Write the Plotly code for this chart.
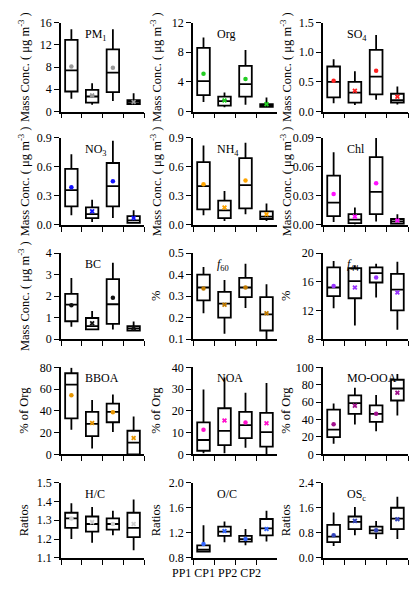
import plotly.graph_objects as go
from plotly.subplots import make_subplots

W, H = 409, 601
FONT = "Liberation Serif"

periods = ["PP1", "CP1", "PP2", "CP2"]
mean_symbols = ["circle", "x", "circle", "x"]

# Box statistics per variable: [low whisker, q1, median, q3, high whisker], mean
pm1_stats = [[2.3, 3.6, 7.4, 12.9, 14.8], [1.2, 1.6, 2.7, 3.9, 5.1], [1.9, 3.5, 7.0, 11.2, 14.8], [1.2, 1.35, 1.75, 2.05, 3.3]]
pm1_mean = [8.1, 2.9, 7.9, 1.7]
org_stats = [[1.3, 2.2, 4.1, 8.6, 10.0], [0.57, 0.8, 1.4, 2.0, 2.55], [0.9, 2.0, 3.7, 6.15, 8.3], [0.53, 0.62, 0.84, 1.0, 1.9]]
org_mean = [5.1, 1.5, 4.4, 1.0]
so4_stats = [[0.14, 0.24, 0.5, 0.76, 0.88], [0.11, 0.15, 0.32, 0.5, 0.68], [0.2, 0.29, 0.59, 1.04, 1.29], [0.12, 0.15, 0.19, 0.3, 0.42]]
so4_mean = [0.52, 0.35, 0.69, 0.25]
no3_stats = [[0.1, 0.19, 0.36, 0.58, 0.73], [0.03, 0.07, 0.11, 0.18, 0.26], [0.07, 0.19, 0.4, 0.64, 0.87], [0.01, 0.02, 0.045, 0.09, 0.15]]
no3_mean = [0.39, 0.14, 0.45, 0.07]
nh4_stats = [[0.1, 0.16, 0.4, 0.65, 0.82], [0.04, 0.07, 0.15, 0.25, 0.35], [0.11, 0.17, 0.41, 0.69, 0.85], [0.04, 0.06, 0.085, 0.14, 0.22]]
nh4_mean = [0.42, 0.18, 0.46, 0.11]
chl_stats = [[0.003, 0.009, 0.023, 0.051, 0.075], [0.0003, 0.0017, 0.0054, 0.011, 0.018], [0.0034, 0.011, 0.034, 0.07, 0.09], [0.0003, 0.001, 0.0034, 0.006, 0.011]]
chl_mean = [0.032, 0.0085, 0.043, 0.0044]
bc_stats = [[0.57, 0.83, 1.6, 2.1, 2.84], [0.41, 0.45, 0.6, 0.98, 1.31], [0.45, 0.71, 1.62, 2.79, 3.55], [0.35, 0.39, 0.5, 0.6, 0.82]]
bc_mean = [1.58, 0.74, 1.92, 0.51]
f60_stats = [[0.22, 0.28, 0.34, 0.4, 0.435], [0.125, 0.2, 0.265, 0.32, 0.375], [0.245, 0.295, 0.34, 0.385, 0.45], [0.095, 0.14, 0.215, 0.295, 0.355]]
f60_mean = [0.335, 0.26, 0.34, 0.22]
f44_stats = [[12.3, 14.0, 15.2, 18.0, 18.9], [9.9, 13.7, 16.1, 17.9, 18.3], [13.8, 15.9, 17.2, 18.0, 18.5], [9.3, 12.0, 14.9, 17.1, 18.8]]
f44_mean = [15.4, 15.2, 16.6, 14.5]
bboa_stats = [[22.6, 33.1, 64.1, 74.6, 79.7], [5.4, 16.8, 28.0, 39.1, 49.9], [20.5, 29.5, 39.1, 46.6, 55.0], [0.0, 0.0, 10.8, 21.7, 34.9]]
bboa_mean = [54.4, 28.9, 38.8, 15.0]
noa_stats = [[0.45, 1.65, 6.6, 14.7, 29.8], [0.45, 4.2, 10.8, 21.2, 35.3], [3.0, 7.5, 13.4, 19.5, 28.3], [0.0, 3.5, 10.2, 19.1, 32.8]]
noa_mean = [11.3, 15.6, 14.7, 14.3]
moooa_stats = [[12.3, 19.8, 28.4, 51.5, 58.6], [34.3, 46.6, 59.0, 67.9, 76.5], [26.5, 37.3, 46.6, 56.3, 68.3], [44.8, 61.9, 75.7, 85.8, 92.5]]
moooa_mean = [34.7, 56.0, 46.6, 70.9]
hc_stats = [[1.2, 1.26, 1.31, 1.34, 1.39], [1.18, 1.24, 1.28, 1.32, 1.37], [1.22, 1.25, 1.28, 1.31, 1.35], [1.14, 1.21, 1.26, 1.34, 1.41]]
hc_mean = [1.31, 1.29, 1.28, 1.28]
oc_stats = [[0.89, 0.9, 0.93, 1.0, 1.32], [1.05, 1.15, 1.22, 1.3, 1.38], [1.0, 1.06, 1.1, 1.15, 1.26], [1.06, 1.16, 1.27, 1.42, 1.55]]
oc_mean = [1.02, 1.23, 1.1, 1.26]
osc_stats = [[0.38, 0.5, 0.68, 1.05, 1.45], [0.72, 0.92, 1.15, 1.32, 1.62], [0.6, 0.78, 0.88, 1.0, 1.18], [0.6, 0.92, 1.25, 1.6, 1.95]]
osc_mean = [0.72, 1.18, 0.88, 1.23]

mass_title = "Mass Conc. ( μg m<sup>-3</sup> )"

# name, stats, means, mean colour, y range, y tick step, tick format, y title
panels = [
    ("PM<sub>1</sub>", pm1_stats, pm1_mean, "#999999", [0, 16], 4, "d", mass_title),
    ("Org", org_stats, org_mean, "#22cc22", [0, 12], 4, "d", mass_title),
    ("SO<sub>4</sub>", so4_stats, so4_mean, "#ff2020", [0, 1.5], 0.5, ".1f", mass_title),
    ("NO<sub>3</sub>", no3_stats, no3_mean, "#1010ff", [0, 0.9], 0.3, ".1f", mass_title),
    ("NH<sub>4</sub>", nh4_stats, nh4_mean, "#ffa500", [0, 0.9], 0.3, ".1f", mass_title),
    ("Chl", chl_stats, chl_mean, "#ff10ff", [0, 0.09], 0.03, ".2f", mass_title),
    ("BC", bc_stats, bc_mean, "#111111", [0, 4], 1, "d", mass_title),
    ("<i>f</i><sub>60</sub>", f60_stats, f60_mean, "#c07a00", [0.1, 0.5], 0.1, ".1f", "%"),
    ("<i>f</i><sub>44</sub>", f44_stats, f44_mean, "#9933ff", [8, 20], 4, "d", "%"),
    ("BBOA", bboa_stats, bboa_mean, "#e69500", [0, 80], 20, "d", "% of Org"),
    ("NOA", noa_stats, noa_mean, "#ff10cc", [0, 40], 10, "d", "% of Org"),
    ("MO-OOA", moooa_stats, moooa_mean, "#a0108c", [0, 100], 20, "d", "% of Org"),
    ("H/C", hc_stats, hc_mean, "#cccccc", [1.1, 1.5], 0.1, ".1f", "Ratios"),
    ("O/C", oc_stats, oc_mean, "#3366ff", [0.8, 2.0], 0.4, ".1f", "Ratios"),
    ("OS<sub>c</sub>", osc_stats, osc_mean, "#3344bb", [0.0, 2.4], 0.8, ".1f", "Ratios"),
]

col_px = [(61, 144), (193, 277), (323, 408)]
row_px = [(16, 107), (134, 223), (252, 340), (369, 458), (487, 564)]

fig = make_subplots(rows=5, cols=3)

for i, (name, stats, means, color, yr, dt, fmt, ytitle) in enumerate(panels):
    r, c = divmod(i, 3)
    row, col = r + 1, c + 1
    lo, q1, med, q3, hi = zip(*stats)
    fig.add_trace(go.Box(
        x=periods, q1=list(q1), median=list(med), q3=list(q3),
        lowerfence=list(lo), upperfence=list(hi),
        width=0.6, whiskerwidth=0, fillcolor="rgba(0,0,0,0)",
        line=dict(color="black", width=1.8), boxpoints=False,
        hoverinfo="skip", showlegend=False,
    ), row=row, col=col)
    fig.add_trace(go.Scatter(
        x=periods, y=means, mode="markers",
        marker=dict(symbol=mean_symbols, size=4.5, color=color,
                    line=dict(width=0)),
        hoverinfo="skip", showlegend=False,
    ), row=row, col=col)

    x0, x1 = col_px[c]
    y0, y1 = row_px[r]
    ticks = []
    v = yr[0]
    while v <= yr[1] + 1e-9:
        ticks.append(round(v, 6))
        v += dt
    fig.update_xaxes(
        domain=[x0 / W, x1 / W], type="category", range=[-0.5, 3.5],
        showline=True, linecolor="black", linewidth=1.6,
        ticks="outside", tickson="boundaries", ticklen=5, tickwidth=1.3,
        tickcolor="black", showgrid=False, zeroline=False,
        showticklabels=False,
        row=row, col=col)
    fig.update_yaxes(
        domain=[1 - y1 / H, 1 - y0 / H], range=yr,
        tickvals=ticks, tickformat=fmt,
        showline=True, linecolor="black", linewidth=1.6,
        ticks="outside", ticklen=5, tickwidth=1.3, tickcolor="black",
        showgrid=False, zeroline=False,
        tickfont=dict(family=FONT, size=12, color="black"),
        row=row, col=col)

    # panel label inside the plot area
    fig.add_annotation(
        x=(x0 + 22) / W, y=1 - (y0 + 2) / H, xref="paper", yref="paper",
        xanchor="left", yanchor="top", text=name, showarrow=False,
        font=dict(family=FONT, size=12, color="black"))
    # y-axis title
    fig.add_annotation(
        x=(x0 - 37) / W, y=1 - (y0 + y1) / 2 / H, xref="paper", yref="paper",
        xanchor="center", yanchor="middle", text=ytitle, textangle=-90,
        showarrow=False, font=dict(family=FONT, size=12.5, color="black"))

# period labels beneath the middle bottom panel
fig.add_annotation(
    x=216 / W, y=1 - 579 / H, xref="paper", yref="paper",
    xanchor="center", yanchor="middle", text=" ".join(periods),
    showarrow=False, font=dict(family=FONT, size=12, color="black"))

fig.update_layout(
    width=W, height=H, margin=dict(l=0, r=0, t=0, b=0),
    paper_bgcolor="white", plot_bgcolor="white",
    font=dict(family=FONT, color="black"),
)

fig.write_html("out.html")
